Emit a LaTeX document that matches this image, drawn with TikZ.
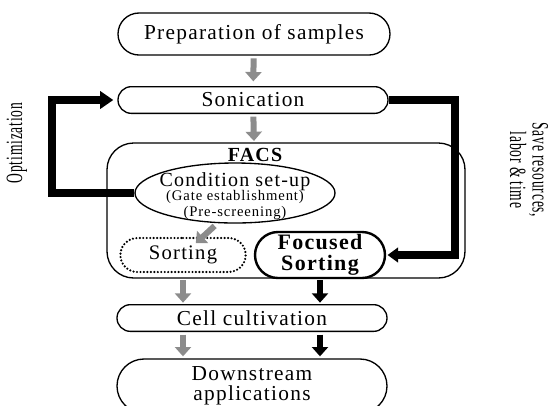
\documentclass[tikz,border=0pt]{standalone}
\usepackage{fontspec}
\setmainfont{Liberation Serif}[LetterSpace=6]
\usepackage{graphicx}
\usetikzlibrary{arrows.meta,shapes.misc,shapes.geometric,positioning}

\tikzset{
  stage/.style={rounded rectangle, draw, line width=1pt, inner sep=0pt,
    minimum width=202.5pt, minimum height=20pt, font=\fontsize{16}{17}\selectfont},
  grayarrow/.style={line width=4.5pt, draw=black!45,
    -{Triangle[width=12pt,length=7pt]}},
  blackarrow/.style={grayarrow, draw=black},
  loopline/.style={line width=6pt, -{Triangle[width=13pt,length=10pt]}},
  sidetext/.style={font=\fontsize{17.5}{17}\selectfont, align=center},
}
\newcommand{\narrow}[1]{\scalebox{0.58}[1]{#1}}

\begin{document}
\begin{tikzpicture}[x=0.75pt, y=-0.75pt]
  \clip (0,0) rectangle (553,405);
  \useasboundingbox (0,0) rectangle (553,405);

  % main flow
  \node[stage, minimum height=31.5pt, minimum width=204pt] (prep) at (254,34) {Preparation of samples};
  \node[stage] (son) at (253,100) {Sonication};

  % FACS block
  \draw[line width=1pt, rounded corners=20pt] (107,143) rectangle (465,278);
  \coordinate (facstop) at (254,143);
  \coordinate (facsbot) at (254,278);
  \node[font=\fontsize{15}{16}\selectfont\bfseries] (facs) at (255,155) {FACS};
  \node[ellipse, draw, line width=1pt, inner sep=0pt, minimum width=150pt,
    minimum height=45pt] (cond) at (235,193) {};
  \node[align=center, inner sep=0pt] (condtext) at (235,196)
    {{\fontsize{15}{14}\selectfont Condition set-up}\\[-1.5pt]
     {\fontsize{11}{12}\selectfont (Gate establishment)}\\
     {\fontsize{11}{12}\selectfont (Pre-screening)}};
  \node[rounded rectangle, draw, line width=1.8pt, line cap=round,
    dash pattern=on 0pt off 2.6pt, inner sep=0pt,
    minimum width=94pt, minimum height=25.5pt, font=\fontsize{15.5}{17}\selectfont]
    (sort) at (183,255) {Sorting};
  \node[rounded rectangle, draw, line width=1.8pt, inner sep=0pt, align=center,
    minimum width=97.5pt, minimum height=34.5pt, font=\fontsize{16.5}{15.5}\selectfont\bfseries]
    (focus) at (320,255) {Focused\\Sorting};

  \node[stage] (cult) at (252,318) {Cell cultivation};
  \node[stage, minimum height=40.5pt, align=center,
    font=\fontsize{16}{15}\selectfont] (down) at (252,386) {Downstream\\applications};

  % arrows between stages
  \draw[grayarrow, shorten <=2pt, shorten >=3.5pt] (prep) -- (son);
  \draw[grayarrow, shorten <=2pt, shorten >=1.5pt] (son) -- (facstop);
  \draw[grayarrow, shorten <=3pt, shorten >=13pt] (cond.240) -- (sort.center);
  \draw[grayarrow, shorten <=1.5pt, shorten >=1pt] (sort.south |- facsbot) -- (sort.south |- cult.north);
  \draw[blackarrow, shorten <=1.5pt, shorten >=1pt] (focus.south |- facsbot) -- (focus.south |- cult.north);
  \draw[grayarrow, shorten <=2pt, shorten >=1.5pt] (sort.south |- cult.south) -- (sort.south |- down.north);
  \draw[blackarrow, shorten <=2pt, shorten >=1.5pt] (focus.south |- cult.south) -- (focus.south |- down.north);

  % feedback loops
  \draw[loopline, shorten >=3pt] (cond.west) -- ++(-82,0) |- (son.west);
  \draw[loopline, -{Triangle[width=11pt,length=8pt]}, shorten >=1pt]
    (son.east) -- ++(66,0) |- (focus.east);

  \node[sidetext, rotate=90] (opt) at (17,143) {\narrow{Optimization}};
  \node[sidetext, rotate=-90] (save) at (529,170)
    {\narrow{Save resources,}\\\narrow{labor \& time}};
\end{tikzpicture}
\end{document}
